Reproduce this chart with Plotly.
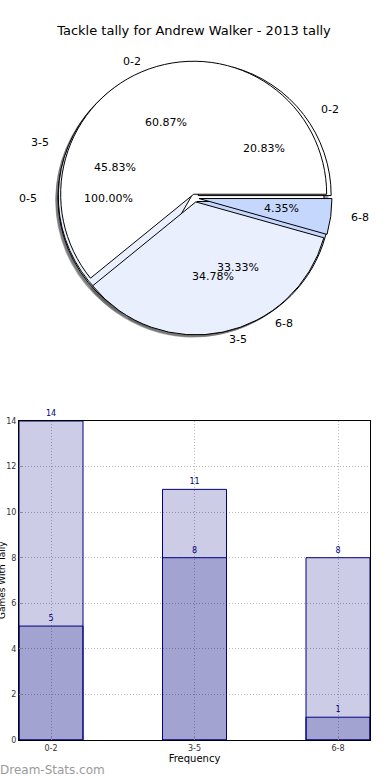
import numpy as np
import plotly.graph_objects as go

# ---------------- data ----------------
title_text = "Tackle tally for Andrew Walker - 2013 tally"
total_labels = ["0-5"]
total_values = [24]
ring_labels = ["0-2", "3-5", "6-8"]
pie2_values = [5, 11, 8]
pie3_values = [14, 8, 1]

bar_categories = ["0-2", "3-5", "6-8"]
bar_light = [14, 11, 8]
bar_dark = [5, 8, 1]
x_title = "Frequency"
y_title = "Games With Tally"
watermark = "Dream-Stats.com"

# ---------------- styling / geometry ----------------
W, H = 390, 780
CX, CY = 195, 198          # pie centre (px)
R = 133                     # plotly pie radius (px)
RX, RY = 138, 128           # text placement radii (px)
EXPLODE = 0.03
pie_colors = ["#ffffff", "#e9effd", "#c5d7fd"]
shadow_color = "rgba(77,77,77,0.5)"
FONT = "DejaVu Sans"


def dom(cx, cy, half):
    return dict(x=[(cx - half) / W, (cx + half) / W],
                y=[1 - (cy + half) / H, 1 - (cy - half) / H])


def start_rotation(vals):
    # plotly counterclockwise: first slice occupies [rotation, rotation+size] clockwise;
    # we want first slice to start at 3 o'clock and run counterclockwise
    return 90 - 360 * vals[0] / sum(vals)


half = R * (1 + EXPLODE)

fig = go.Figure()

pies = [(total_labels, total_values), (ring_labels, pie2_values), (ring_labels, pie3_values)]

# shadows first (matplotlib draws all shadows beneath wedges)
for labels, vals in pies:
    fig.add_trace(go.Pie(
        labels=labels, values=vals, sort=False, direction="counterclockwise",
        rotation=start_rotation(vals), pull=[EXPLODE] * len(vals),
        marker=dict(colors=[shadow_color] * len(vals), line=dict(width=0)),
        textinfo="none", hoverinfo="skip", showlegend=False,
        domain=dom(CX - 0.02 * RX, CY + 0.02 * RY, half)))

for labels, vals in pies:
    fig.add_trace(go.Pie(
        labels=labels, values=vals, sort=False, direction="counterclockwise",
        rotation=start_rotation(vals), pull=[EXPLODE] * len(vals),
        marker=dict(colors=pie_colors[:len(vals)], line=dict(color="black", width=1)),
        textinfo="none", hoverinfo="skip", showlegend=False,
        domain=dom(CX, CY, half)))

annotations = []
for labels, vals in pies:
    v = np.array(vals, dtype=float)
    fr = v / v.sum()
    start = 360 * (np.cumsum(fr) - fr)
    mid = np.radians(start + 180 * fr)
    for lab, f, th in zip(labels, fr, mid):
        c, s = np.cos(th), np.sin(th)
        lx = CX + (EXPLODE + 1.1) * RX * c
        ly = CY - (EXPLODE + 1.1) * RY * s
        annotations.append(dict(
            x=lx / W, y=1 - ly / H, xref="paper", yref="paper", text=lab,
            showarrow=False, xanchor="left" if c > 0 else "right", yanchor="middle",
            font=dict(family=FONT, size=11, color="black")))
        px = CX + (EXPLODE + 0.6) * RX * c
        py = CY - (EXPLODE + 0.6) * RY * s
        annotations.append(dict(
            x=px / W, y=1 - py / H, xref="paper", yref="paper",
            text=f"{f * 100:.2f}%", showarrow=False, xanchor="center", yanchor="middle",
            font=dict(family=FONT, size=11, color="black")))

# ---------------- bars ----------------
bar_fill = "rgba(0,0,128,0.2)"
for vals in (bar_light, bar_dark):
    fig.add_trace(go.Bar(
        x=bar_categories, y=vals, width=0.446,
        marker=dict(color=bar_fill, line=dict(color="#000080", width=1)),
        text=[str(v) for v in vals], textposition="outside",
        textfont=dict(family=FONT, size=8, color="#000080"),
        cliponaxis=False, hoverinfo="skip", showlegend=False))

annotations.append(dict(
    x=2 / W, y=1 - 580 / H, xref="paper", yref="paper", text=y_title,
    textangle=-90, showarrow=False, xanchor="center", yanchor="middle",
    font=dict(family=FONT, size=9, color="black")))
annotations.append(dict(
    x=-2 / W, y=1 - 770 / H, xref="paper", yref="paper", text=watermark,
    showarrow=False, xanchor="left", yanchor="middle",
    font=dict(family=FONT, size=12, color="#9a9a9a")))

grid_style = dict(showgrid=True, gridcolor="#b8b8b8", griddash="1px,2px", gridwidth=1)

fig.update_layout(
    width=W, height=H, margin=dict(l=0, r=0, t=0, b=0, autoexpand=False),
    paper_bgcolor="white", plot_bgcolor="white",
    barmode="overlay",
    title=dict(text=title_text, x=194 / W, xanchor="center", y=1 - 30 / H, yanchor="middle",
               font=dict(family=FONT, size=13, color="black")),
    annotations=annotations,
    xaxis=dict(domain=[19 / W, 370 / W], range=[-0.223, 2.223], type="category",
               showline=True, linecolor="black", linewidth=1, mirror=True,
               ticks="inside", ticklen=3, tickcolor="#888", automargin=False,
               tickfont=dict(family=FONT, size=8, color="#333"),
               title=dict(text=x_title, font=dict(family=FONT, size=10, color="black"), standoff=2),
               anchor="y", zeroline=False, **grid_style),
    yaxis=dict(domain=[1 - 740 / H, 1 - 421 / H], range=[0, 14], dtick=2,
               showline=True, linecolor="black", linewidth=1, mirror=True,
               ticks="inside", ticklen=3, tickcolor="#888", automargin=False,
               tickfont=dict(family=FONT, size=8, color="#333"),
               anchor="x", zeroline=False, **grid_style),
)

fig.write_html("out.html", config={"displayModeBar": False},
               post_script="document.body.style.margin='0px';document.body.style.overflow='hidden';")
